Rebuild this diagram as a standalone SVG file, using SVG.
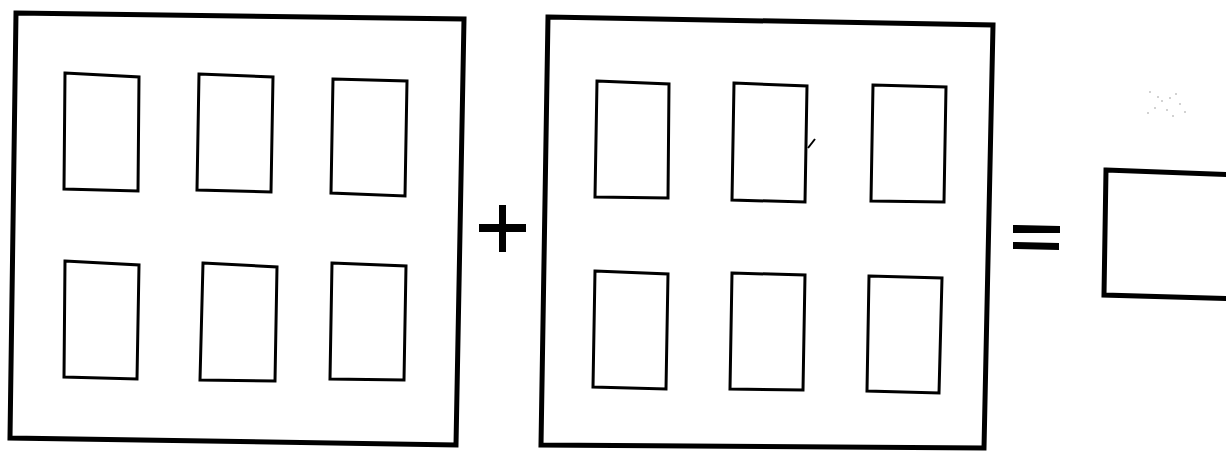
<svg xmlns="http://www.w3.org/2000/svg" width="1226" height="451" viewBox="0 0 1226 451">
<style>
.outer{fill:none;stroke:#000;stroke-width:5;stroke-linejoin:miter}
.cell{fill:none;stroke:#000;stroke-width:3;stroke-linejoin:miter}
.sym{fill:#000}
.speck{fill:#999}
</style>
<rect width="1226" height="451" fill="#fff"/>
<g id="box1">
<polygon class="outer" points="16,13 464,19 456,445 10,438"/>
<polygon class="cell" points="65,73 139,77 138,191 64,189"/>
<polygon class="cell" points="199,74 273,77 271,192 197,190"/>
<polygon class="cell" points="333,79 407,81 405,196 331,193"/>
<polygon class="cell" points="65,261 139,265 137,379 64,377"/>
<polygon class="cell" points="203,263 277,267 275,381 200,380"/>
<polygon class="cell" points="332,263 406,266 404,380 330,379"/>
</g>
<g id="plus">
<rect class="sym" x="479" y="224" width="47" height="8"/>
<rect class="sym" x="499" y="205" width="7" height="47"/>
</g>
<g id="box2">
<polygon class="outer" points="548,17 993,25 984,448 541,445"/>
<polygon class="cell" points="597,81 669,84 668,198 595,197"/>
<polygon class="cell" points="734,83 807,86 805,202 732,200"/>
<polygon class="cell" points="873,85 946,87 944,202 871,201"/>
<polygon class="cell" points="595,271 668,274 666,389 593,387"/>
<polygon class="cell" points="732,273 805,275 803,390 730,389"/>
<polygon class="cell" points="869,276 942,278 939,393 867,391"/>
<line x1="808" y1="148" x2="815" y2="139" stroke="#000" stroke-width="2"/>
</g>
<g id="equals">
<polygon class="sym" points="1013,225 1060,226 1060,233 1013,233"/>
<polygon class="sym" points="1013,242 1059,243 1059,250 1013,249"/>
</g>
<g id="answer">
<polygon class="outer" points="1106,170 1240,175 1240,299 1104,295"/>
</g>
<g id="specks">
<circle class="speck" cx="1150" cy="92" r="0.8"/>
<circle class="speck" cx="1158" cy="97" r="0.8"/>
<circle class="speck" cx="1162" cy="101" r="0.8"/>
<circle class="speck" cx="1170" cy="98" r="0.8"/>
<circle class="speck" cx="1176" cy="94" r="0.8"/>
<circle class="speck" cx="1180" cy="104" r="0.8"/>
<circle class="speck" cx="1155" cy="108" r="0.8"/>
<circle class="speck" cx="1167" cy="110" r="0.8"/>
<circle class="speck" cx="1185" cy="112" r="0.8"/>
<circle class="speck" cx="1148" cy="113" r="0.8"/>
<circle class="speck" cx="1173" cy="116" r="0.8"/>
</g>
</svg>
